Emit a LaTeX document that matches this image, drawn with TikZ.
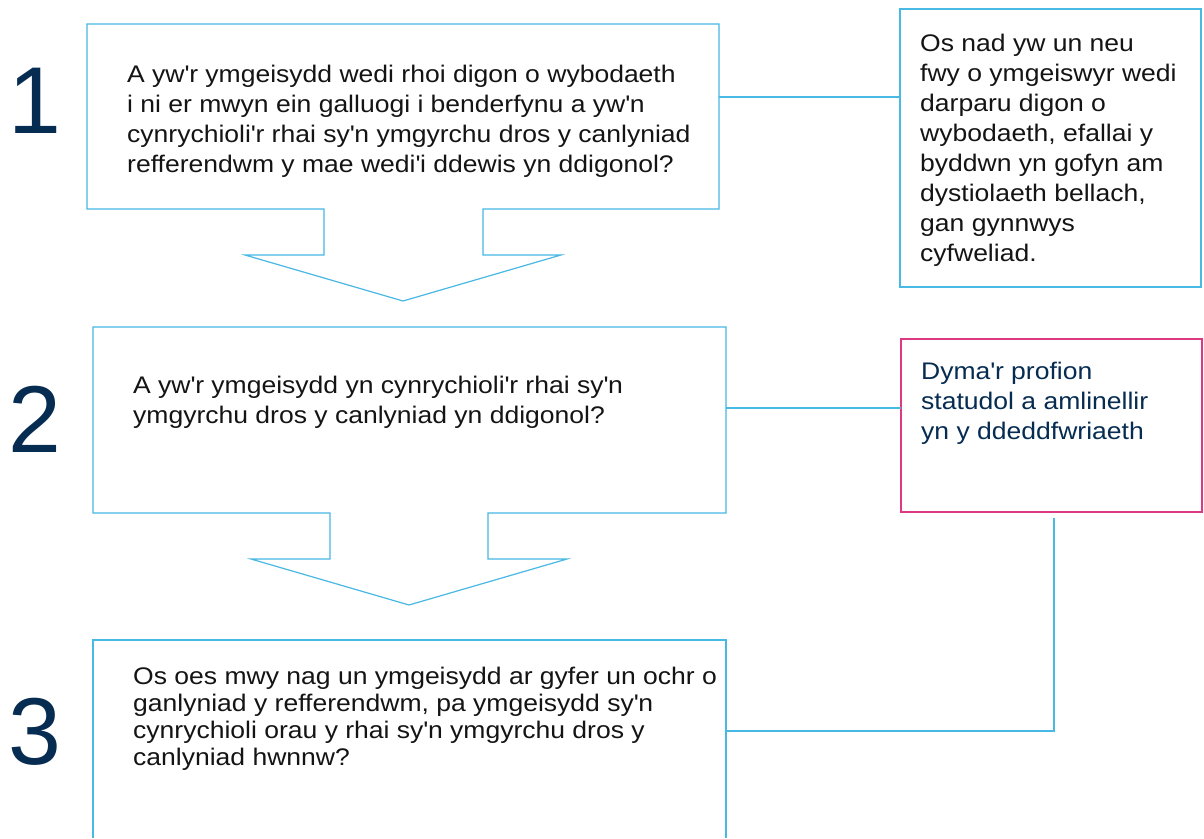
\documentclass[tikz,border=0pt]{standalone}
\usepackage{fontspec}
\setmainfont{Liberation Sans}
\newfontfamily\bodyfont{Liberation Sans}[FakeStretch=1.105]
\usetikzlibrary{calc}
\definecolor{lineblue}{RGB}{72,184,228}
\definecolor{pinkline}{RGB}{222,58,132}
\definecolor{navy}{RGB}{6,44,82}
\definecolor{txt}{RGB}{20,20,20}
\newcommand{\ap}{\textquotesingle}
\begin{document}
\begin{tikzpicture}[x=1pt,y=-1pt,
  frame/.style={draw=none,inner sep=0,outer sep=0},
  outl/.style={draw=lineblue,line width=1.2pt,line join=miter},
  pinkout/.style={draw=pinkline,line width=1.2pt},
  conn/.style={draw=lineblue,line width=1.2pt},
  body/.style={anchor=north west,inner sep=0,align=left,text=txt,font=\bodyfont\fontsize{24}{30}\selectfont},
  num/.style={anchor=base west,inner sep=0,text=navy,font=\fontsize{95}{95}\selectfont}]
\useasboundingbox[fill=white] (0,0) rectangle (1204,838);
% box frames (named, invisible)
\node[frame,minimum width=632pt,minimum height=185pt,anchor=north west] (b1) at (87,24) {};
\node[frame,minimum width=633pt,minimum height=186pt,anchor=north west] (b2) at (93,327) {};
\node[frame,minimum width=633pt,minimum height=198pt,anchor=north west] (b3) at (93,640) {};
\node[frame,minimum width=301pt,minimum height=278pt,anchor=north west] (r1) at (900,9) {};
\node[frame,minimum width=301pt,minimum height=173pt,anchor=north west] (r2) at (901,339) {};
% outlines
\draw[outl] (b1.south west) -- (b1.north west) -- (b1.north east) -- (b1.south east) -- (483,209) -- (483,255) -- (561,255) -- (403,301) -- (245,255) -- (324,255) -- (324,209) -- cycle;
\draw[outl] (b2.south west) -- (b2.north west) -- (b2.north east) -- (b2.south east) -- (488,513) -- (488,559) -- (567,559) -- (409,605) -- (251,559) -- (330,559) -- (330,513) -- cycle;
\draw[outl] (b3.south west) -- (b3.north west) -- (b3.north east) -- (b3.south east);
\draw[outl] (r1.north west) rectangle (r1.south east);
\draw[pinkout] (r2.north west) rectangle (r2.south east);
% connectors
\coordinate (c1) at (719,97);
\coordinate (c2) at (726,408);
\coordinate (c3) at (1054,518);
\coordinate (c4) at (1054,731);
\draw[conn] (c1) -- (c1 -| r1.west);
\draw[conn] (c2) -- (c2 -| r2.west);
\draw[conn] (c3) -- (c4) -- (c4 -| b3.east);
% numbers
\node[num] (n1) at (8,133) {1};
\node[num] (n2) at (8,452) {2};
\node[num] (n3) at (8,764) {3};
% texts
\node[body] (t1) at (127,65) {A yw\ap r ymgeisydd wedi rhoi digon o wybodaeth\\i ni er mwyn ein galluogi i benderfynu a yw\ap n\\cynrychioli\ap r rhai sy\ap n ymgyrchu dros y canlyniad\\refferendwm y mae wedi\ap i ddewis yn ddigonol?};
\node[body] (t2) at (133,376) {A yw\ap r ymgeisydd yn cynrychioli\ap r rhai sy\ap n\\ymgyrchu dros y canlyniad yn ddigonol?};
\node[body,font=\bodyfont\fontsize{24}{27}\selectfont] (t3) at (133,667) {Os oes mwy nag un ymgeisydd ar gyfer un ochr o\\ganlyniad y refferendwm, pa ymgeisydd sy\ap n\\cynrychioli orau y rhai sy\ap n ymgyrchu dros y\\canlyniad hwnnw?};
\node[body] (t4) at (920,34) {Os nad yw un neu\\fwy o ymgeiswyr wedi\\darparu digon o\\wybodaeth, efallai y\\byddwn yn gofyn am\\dystiolaeth bellach,\\gan gynnwys\\cyfweliad.};
\node[body,text=navy] (t5) at (921,362) {Dyma\ap r profion\\statudol a amlinellir\\yn y ddeddfwriaeth};
\end{tikzpicture}
\end{document}
